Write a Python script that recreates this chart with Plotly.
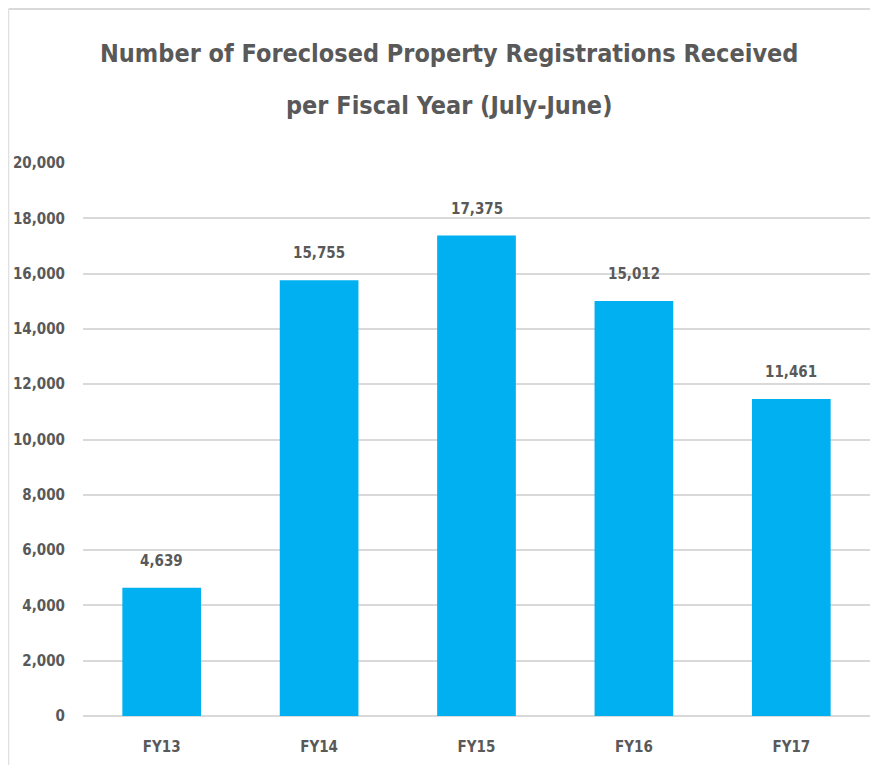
import plotly.graph_objects as go

categories = ["FY13", "FY14", "FY15", "FY16", "FY17"]
values = [4639, 15755, 17375, 15012, 11461]
tick_vals = [0, 2000, 4000, 6000, 8000, 10000, 12000, 14000, 16000, 18000, 20000]
tick_text = ["0", "2,000", "4,000", "6,000", "8,000", "10,000", "12,000", "14,000", "16,000", "18,000", "20,000"]
title_lines = ["Number of Foreclosed Property Registrations Received", "per Fiscal Year (July-June)"]

FONT = "DejaVu Sans Condensed"
GRAY = "#595959"

W, H = 862, 757
L, R, T, B = 75, 0, 155, 49
PW, PH = W - L - R, H - T - B

fig = go.Figure(go.Bar(
    x=categories, y=values,
    marker=dict(color="#00B0F0", line=dict(width=0)),
    width=0.5,
    hoverinfo="x+y",
))

for c, v in zip(categories, values):
    fig.add_annotation(x=c, y=v, text=f"{v:,}", showarrow=False,
                       yanchor="bottom", yshift=16,
                       font=dict(family=FONT, size=15, color=GRAY, weight="bold"))

title_y = [46, 97]
for line, yc in zip(title_lines, title_y):
    fig.add_annotation(xref="paper", yref="paper", x=(449 - 8 - L) / PW, y=1 + (T - yc) / PH,
                       text=line, showarrow=False, xanchor="center", yanchor="middle",
                       font=dict(family=FONT, size=25, color=GRAY, weight="bold"))

fig.update_layout(
    width=W, height=H,
    margin=dict(l=L, r=R, t=T, b=B),
    paper_bgcolor="white", plot_bgcolor="white",
    showlegend=False,
    xaxis=dict(showgrid=False, showline=False, ticks="", ticklabelstandoff=20,
               tickfont=dict(family=FONT, size=15, color=GRAY, weight="bold")),
    yaxis=dict(range=[0, 20000], tickvals=tick_vals, ticktext=tick_text,
               showgrid=True, gridcolor="#d9d9d9", gridwidth=1.5,
               zeroline=True, zerolinecolor="#d9d9d9", zerolinewidth=1.5,
               ticks="", ticklabelstandoff=17,
               tickfont=dict(family=FONT, size=15, color=GRAY, weight="bold")),
    shapes=[
        dict(type="line", xref="paper", yref="paper", x0=-(L - 0.5) / PW, x1=1,
             y0=1 + (T - 1) / PH, y1=1 + (T - 1) / PH,
             line=dict(color="#d9d9d9", width=2)),
        dict(type="line", xref="paper", yref="paper", x0=-(L - 0.5) / PW, x1=-(L - 0.5) / PW,
             y0=1 + (T - 1) / PH, y1=-B / PH,
             line=dict(color="#e0e0e0", width=1.5)),
    ],
)
fig.write_html("out.html")
